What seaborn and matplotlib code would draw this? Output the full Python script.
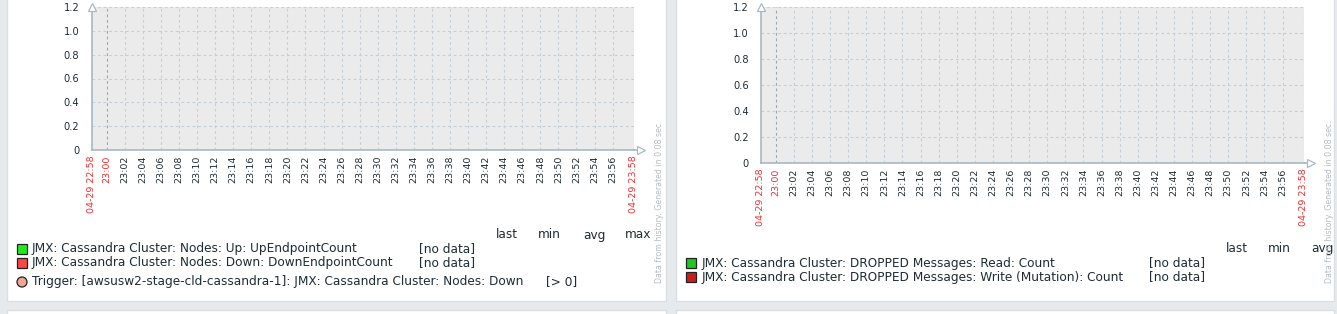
import matplotlib
matplotlib.use("Agg")
import matplotlib.pyplot as plt
from matplotlib.patches import Rectangle, Ellipse
import seaborn as sns
import pandas as pd

sns.set_theme(style="white")
plt.rcParams['font.family'] = ['DejaVu Sans']

# ---------------- data ----------------
# time axis in minutes after 22:00 (window 22:58:22 .. 23:58:22)
time_start = 58.37
time_end = 118.37
tick_minutes = list(range(60, 118, 2))
tick_labels = ["23:%02d" % (m - 60) for m in tick_minutes]
edge_labels = ["04-29 22:58", "04-29 23:58"]
y_ticks = [0, 0.2, 0.4, 0.6, 0.8, 1.0, 1.2]
y_tick_labels = ["0", "0.2", "0.4", "0.6", "0.8", "1.0", "1.2"]

# series (no data in the period)
left_series = ["JMX: Cassandra Cluster: Nodes: Up: UpEndpointCount",
               "JMX: Cassandra Cluster: Nodes: Down: DownEndpointCount"]
left_colors = ["#1aee1a", "#ff4646"]
left_times = [[], []]
left_values = [[], []]
left_stats = ["[no data]", "[no data]"]
left_trigger = "Trigger: [awsusw2-stage-cld-cassandra-1]: JMX: Cassandra Cluster: Nodes: Down"
left_trigger_cond = "[> 0]"
left_headers = ["last", "min", "avg", "max"]

right_series = ["JMX: Cassandra Cluster: DROPPED Messages: Read: Count",
                "JMX: Cassandra Cluster: DROPPED Messages: Write (Mutation): Count"]
right_colors = ["#1ec81e", "#c81e1e"]
right_times = [[], []]
right_values = [[], []]
right_stats = ["[no data]", "[no data]"]
right_headers = ["last", "min", "avg"]

footer_text = "Data from history. Generated in 0.08 sec."

# ---------------- layout ----------------
W, H = 1337, 314
fig = plt.figure(figsize=(W / 100, H / 100), dpi=100)
fig.patch.set_facecolor("#e7eaed")

def fx(x):
    return x / W

def fy(y):
    return 1 - y / H

def panel(x0, y0, x1, y1):
    fig.patches.append(Rectangle((fx(x0), fy(y1)), fx(x1) - fx(x0), fy(y0) - fy(y1),
                                 transform=fig.transFigure, facecolor="white",
                                 edgecolor="#dadfe3", linewidth=1, zorder=-5))

panel(7, -5, 666, 301)
panel(676, -5, 1334, 301)
panel(7, 310, 666, 330)
panel(676, 310, 1334, 330)

RED = "#ee3030"
TXT = "#1f2c33"
GRID = "#c5cfd8"
AXIS = "#a9b8c3"

def make_axes(x0, y0, x1, y1, times, values, colors):
    ax = fig.add_axes([fx(x0), fy(y1), fx(x1) - fx(x0), fy(y0) - fy(y1)])
    ax.set_zorder(2)
    for t, v, c in zip(times, values, colors):
        df = pd.DataFrame({"t": pd.Series(t, dtype=float), "v": pd.Series(v, dtype=float)})
        sns.lineplot(data=df, x="t", y="v", color=c, ax=ax)
    ax.set_facecolor("#ebebeb")
    ax.set_xlim(time_start, time_end)
    ax.set_ylim(0, 1.2)
    ax.set_xlabel("")
    ax.set_ylabel("")
    ax.set_yticks(y_ticks)
    ax.set_yticklabels(y_tick_labels, fontsize=7.1, color=TXT)
    xt = [time_start] + tick_minutes + [time_end]
    xl = [edge_labels[0]] + tick_labels + [edge_labels[1]]
    ax.set_xticks(xt)
    ax.set_xticklabels(xl, rotation=90, fontsize=6.8, color=TXT, va="top", ha="center")
    for lab, m in zip(ax.get_xticklabels(), xt):
        if m in (time_start, time_end, 60):
            lab.set_color(RED)
    ax.tick_params(axis="x", length=2, width=0.8, color=AXIS, pad=2)
    ax.tick_params(axis="y", pad=9, length=0)
    for s in ("top", "right"):
        ax.spines[s].set_visible(False)
    for s in ("left", "bottom"):
        ax.spines[s].set_color(AXIS)
        ax.spines[s].set_linewidth(1.2)
    for yv in y_ticks[1:]:
        ax.axhline(yv, color=GRID, lw=0.8, ls=(0, (2.5, 2.5)), zorder=0.5)
    for m in tick_minutes:
        ax.axvline(m, color="#9aa6b0" if m == 60 else GRID, lw=0.8,
                   ls=(0, (2.5, 2.5)), zorder=0.5)
    ax.axvline(time_end, color=GRID, lw=0.8, ls=(0, (2.5, 2.5)), zorder=0.5)
    # axis arrows (open triangles)
    ax.plot([0], [1.0], transform=ax.transAxes, marker="^", markersize=6,
            markerfacecolor="white", markeredgecolor=AXIS, clip_on=False,
            markeredgewidth=0.9, zorder=5)
    ax.plot([1.012], [0], transform=ax.transAxes, marker=">", markersize=6,
            markerfacecolor="white", markeredgecolor=AXIS, clip_on=False,
            markeredgewidth=0.9, zorder=5)
    ax.plot([1.0, 1.012], [0, 0], transform=ax.transAxes, color=AXIS, lw=1.2,
            clip_on=False, zorder=4)
    return ax

axL = make_axes(92, 7, 634, 150, left_times, left_values, left_colors)
axR = make_axes(761, 7, 1304, 163, right_times, right_values, right_colors)

FS = 8.7

def ftext(x, y, s, **kw):
    kw.setdefault("fontsize", FS)
    kw.setdefault("color", TXT)
    kw.setdefault("va", "center")
    kw.setdefault("ha", "left")
    fig.text(fx(x), fy(y), s, **kw)

def square(x, y, c):
    fig.patches.append(Rectangle((fx(x), fy(y + 10)), fx(10), 10 / H,
                                 transform=fig.transFigure, facecolor=c,
                                 edgecolor="#222222", linewidth=0.9, zorder=3))

# left legend
for hx, h in zip([496, 538, 583, 625], left_headers):
    ftext(hx, 235, h)
for i, (lab, c, st) in enumerate(zip(left_series, left_colors, left_stats)):
    yy = [248.5, 262.5][i]
    square(17, yy - 5, c)
    ftext(32, yy, lab)
    ftext(419, yy, st)
fig.patches.append(Ellipse((fx(22), fy(282)), 10 / W, 10 / H, transform=fig.transFigure,
                           facecolor="#f2a890", edgecolor="#222222", linewidth=0.9, zorder=3))
ftext(32, 282, left_trigger)
ftext(546, 282, left_trigger_cond)

# right legend
for hx, h in zip([1226, 1268, 1311], right_headers):
    ftext(hx, 248.5, h)
for i, (lab, c, st) in enumerate(zip(right_series, right_colors, right_stats)):
    yy = [263, 277][i]
    square(686, yy - 5, c)
    ftext(701.5, yy, lab)
    ftext(1149, yy, st)

# footer vertical text
for x in (660, 1330):
    fig.text(fx(x), fy(283), footer_text, rotation=90, fontsize=5.7,
             color="#b5bcc2", ha="center", va="bottom")

fig.savefig("out.png", dpi=100, facecolor=fig.get_facecolor())
